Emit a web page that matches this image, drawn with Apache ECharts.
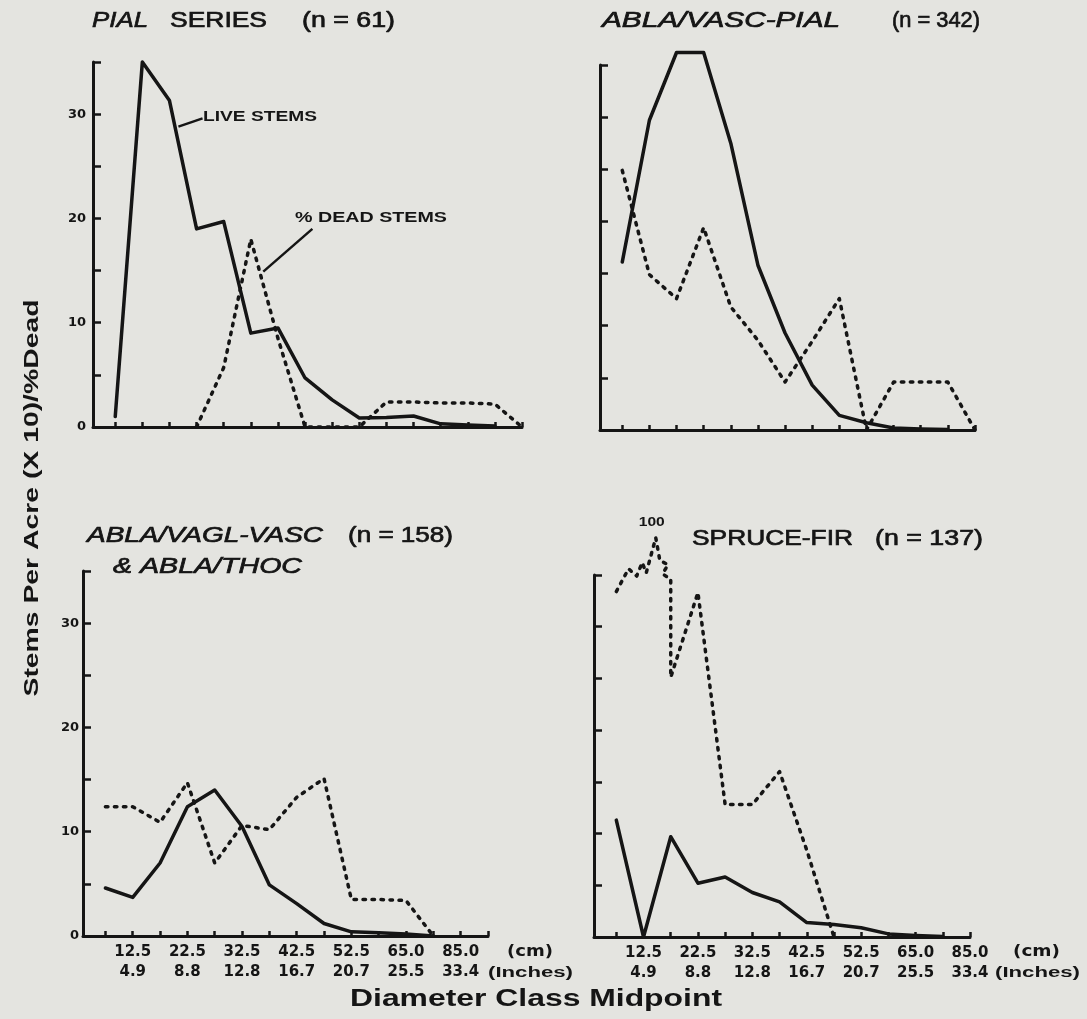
<!DOCTYPE html>
<html><head><meta charset="utf-8">
<script src="https://cdn.jsdelivr.net/npm/echarts@6/dist/echarts.min.js"></script>
<style>html,body{margin:0;padding:0;background:#e4e4e0}#c{width:1087px;height:1019px}</style>
</head><body><div id="c"></div>
<script>
// ---------- data ----------
// x = diameter-class index (0 = first class), y = stems per acre (x10) / % dead
const cmLabels = ['12.5', '22.5', '32.5', '42.5', '52.5', '65.0', '85.0'];
const inLabels = ['4.9', '8.8', '12.8', '16.7', '20.7', '25.5', '33.4'];
const labelAt  = [1, 3, 5, 7, 9, 11, 13];
const yLabelValues = [0, 10, 20, 30];

const pialLive = [1.0, 35.0, 31.3, 19.0, 19.7, 9.0, 9.5, 4.7, 2.6, 0.86, 0.9, 1.05, 0.3, 0.2, 0.1];
const pialDead = [null, null, null, 0, 5.7, 18.0, 8.5, 0, 0, 0, 2.4, 2.4, 2.3, 2.3, 2.2, 0];

const vascLive = [16.1, 29.7, 36.2, 36.2, 27.5, 15.8, 9.3, 4.3, 1.4, 0.7, 0.2, 0.1, 0.05];
const vascDead = [24.9, 14.9, 12.6, 19.4, 11.8, 8.6, 4.6, 8.5, 12.6, 0, 4.6, 4.6, 4.6, 0];

const vaglLive = [4.6, 3.7, 7.0, 12.4, 14.0, 10.5, 4.9, 3.1, 1.2, 0.4, 0.3, 0.2, 0.0];
const vaglDead = [12.4, 12.4, 10.9, 14.7, 7.0, 10.6, 10.2, 13.3, 15.1, 3.5, 3.5, 3.4, 0];

const sfLive  = [11.3, 0, 9.7, 5.2, 5.8, 4.3, 3.4, 1.4, 1.2, 0.9, 0.3, 0.15, 0.05];
// dead stems for spruce-fir include the axis-break zigzag drawn at the top
const sfDeadX = [0, 0.45, 0.75, 0.95, 1.1, 1.45, 1.6, 1.9, 1.7, 2.0, 2.0, 3, 4, 5, 6, 7, 8];
const sfDeadY = [33.4, 35.6, 34.9, 36.2, 35.2, 38.6, 36.4, 36.0, 35.1, 34.6, 25.1, 33.3, 12.8, 12.8, 16.0, 8.4, 0];
const sfBreakIndex = 5;
const sfBreakLabel = '100';

// annotation leader lines (data coordinates, top-left panel)
const liveLeader = [[2.33, 28.8], [3.22, 29.6]];
const deadLeader = [[5.46, 14.9], [7.27, 19.0]];

// ---------- styling / layout ----------
const INK = '#151515';
const BG = '#e4e4e0';
const X_MIN = -0.82;
const xMax = [15, 13, 14, 13];
const grids = [
  { left: 93,  top: 62,  width: 429, height: 365 },
  { left: 600, top: 65,  width: 375, height: 365 },
  { left: 83,  top: 571, width: 405, height: 365 },
  { left: 594, top: 575, width: 376, height: 362 }
];

function pts(arr) {
  const out = [];
  arr.forEach((v, i) => { if (v !== null) out.push([i, v]); });
  return out;
}
function range(n) { const a = []; for (let i = 0; i <= n; i++) a.push(i); return a; }

function xAxis(gi, showLabels) {
  return {
    type: 'value', gridIndex: gi, min: X_MIN, max: xMax[gi],
    axisLine: { show: true, onZero: false, lineStyle: { color: INK, width: 3 } },
    axisTick: { show: true, inside: true, length: 5, lineStyle: { color: INK, width: 2.5 },
                customValues: range(xMax[gi]) },
    axisLabel: showLabels ? {
      show: true, customValues: labelAt, margin: 6, color: INK,
      fontFamily: 'DejaVu Sans', fontWeight: 'bold', fontSize: 15, lineHeight: 20,
      formatter: v => { const k = labelAt.indexOf(Math.round(v)); return k < 0 ? '' : cmLabels[k] + '\n' + inLabels[k]; }
    } : { show: false },
    splitLine: { show: false }
  };
}
function yAxis(gi, showLabels, margin) {
  return {
    type: 'value', gridIndex: gi, min: 0, max: 35, interval: 5,
    axisLine: { show: true, onZero: false, lineStyle: { color: INK, width: 3 } },
    axisTick: { show: true, inside: true, length: 8, lineStyle: { color: INK, width: 2.5 } },
    axisLabel: showLabels ? {
      show: true, margin: margin, color: INK, fontFamily: 'DejaVu Sans', fontWeight: 'bold', fontSize: 13,
      formatter: v => yLabelValues.indexOf(v) >= 0 ? String(v) : ''
    } : { show: false },
    splitLine: { show: false }
  };
}
const solid = { color: INK, width: 3.5, cap: 'round', join: 'round' };
const dashed = { color: INK, width: 3.5, type: [2.5, 6.5], cap: 'round', join: 'round' };
function line(gi, data, style, extra) {
  return Object.assign({
    type: 'line', xAxisIndex: gi, yAxisIndex: gi, data: data, symbol: 'none', showSymbol: false,
    clip: false, lineStyle: style, silent: true, animation: false, z: 3
  }, extra || {});
}

// ---------- text helpers ----------
const mctx = document.createElement('canvas').getContext('2d');
function measure(str, font) { mctx.font = font; return mctx.measureText(str).width; }
function txt(str, font, x, y, targetW, sw, align) {
  const w = measure(str, font);
  const st = { text: str, font: font, fill: INK, align: align || 'left', verticalAlign: 'middle' };
  if (sw) { st.stroke = INK; st.lineWidth = sw; }
  return { type: 'text', x: x, y: y, scaleX: targetW ? targetW / w : 1, silent: true, style: st };
}
const FT = '22px "Liberation Sans"';
const FTI = 'italic 22px "Liberation Sans"';
const FB = 'bold 14px "Liberation Sans"';
const TW = 0.7;

const graphics = [
  txt('PIAL', FTI, 92, 21, 56, TW), txt('SERIES', FT, 170, 21, 97, TW), txt('(n = 61)', FT, 302, 21, 93, TW),
  txt('ABLA/VASC-PIAL', FTI, 602, 21, 238, TW), txt('(n = 342)', FT, 892, 21, 88, TW),
  txt('ABLA/VAGL-VASC', FTI, 87, 536, 236, TW), txt('(n = 158)', FT, 348, 536, 105, TW),
  txt('& ABLA/THOC', FTI, 113, 567, 189, TW),
  txt('SPRUCE-FIR', FT, 692, 539, 161, TW), txt('(n = 137)', FT, 875, 539, 108, TW),
  txt('LIVE STEMS', FB, 203, 117, 114), txt('% DEAD STEMS', FB, 295, 218, 152),
  txt('(cm)', 'bold 15px "DejaVu Sans"', 507, 952, 46), txt('(Inches)', 'bold 14px "Liberation Sans"', 488, 973, 85),
  txt('(cm)', 'bold 15px "DejaVu Sans"', 1013, 952, 47), txt('(Inches)', 'bold 14px "Liberation Sans"', 995, 973, 85),
  txt('Diameter Class Midpoint', 'bold 23px "Liberation Sans"', 350, 1000, 372),
];
(function () {
  const f = 'bold 20px "Liberation Sans"', s = 'Stems Per Acre (X 10)/%Dead';
  const w = measure(s, f);
  graphics.push({ type: 'text', x: 32, y: 498, rotation: Math.PI / 2, scaleX: 397 / w, silent: true,
    style: { text: s, font: f, fill: INK, align: 'center', verticalAlign: 'middle' } });
})();

const sfDeadData = sfDeadX.map((x, i) => [x, sfDeadY[i]]);

const option = {
  backgroundColor: BG,
  animation: false,
  textStyle: { fontFamily: 'Liberation Sans' },
  grid: grids,
  xAxis: [xAxis(0, false), xAxis(1, false), xAxis(2, true), xAxis(3, true)],
  yAxis: [yAxis(0, true, 7), yAxis(1, false, 0), yAxis(2, true, 4), yAxis(3, false, 0)],
  series: [
    line(0, pts(pialLive), solid, {
      markLine: { silent: true, symbol: ['none', 'none'], animation: false,
        lineStyle: { color: INK, width: 2.5, type: 'solid' }, label: { show: false },
        data: [
          [{ coord: liveLeader[0] }, { coord: liveLeader[1] }],
          [{ coord: deadLeader[0] }, { coord: deadLeader[1] }]
        ] }
    }),
    line(0, pts(pialDead), dashed),
    line(1, pts(vascLive), solid),
    line(1, pts(vascDead), dashed),
    line(2, pts(vaglLive), solid),
    line(2, pts(vaglDead), dashed),
    line(3, pts(sfLive), solid),
    line(3, sfDeadData, dashed)
  ]
};
const chart = echarts.init(document.getElementById('c'), null, { renderer: 'canvas' });
chart.setOption(option);
// "100" break label placed through the panel's own scales
const peak = chart.convertToPixel({ xAxisIndex: 3, yAxisIndex: 3 }, [sfDeadX[sfBreakIndex], sfDeadY[sfBreakIndex]]);
graphics.push(txt(sfBreakLabel, 'bold 12px "Liberation Sans"', peak[0] - 4, peak[1] - 15, 26, 0, 'center'));
chart.setOption({ graphic: graphics });
</script></body></html>
